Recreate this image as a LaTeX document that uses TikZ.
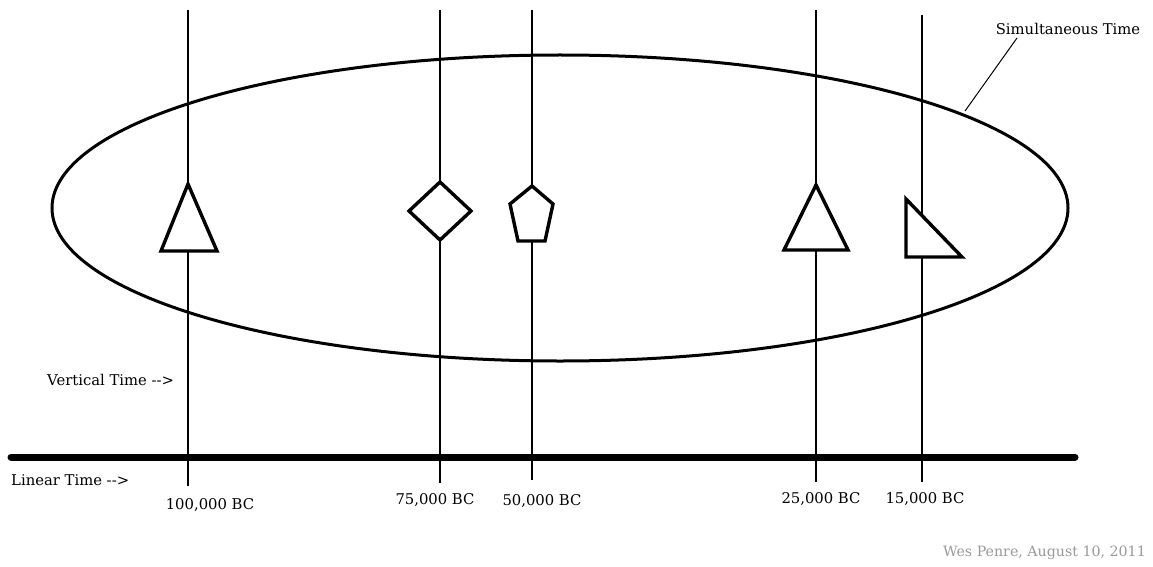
\documentclass[tikz,border=0pt]{standalone}
\usepackage{fontspec}
\setmainfont{DejaVu Serif}
\begin{document}
\begin{tikzpicture}[x=1pt,y=-1pt,
  vline/.style={line width=1.1pt},
  glyph/.style={line width=3.4pt,fill=white,line join=miter},
  lbl/.style={inner sep=0pt,font=\fontsize{14.8}{16}\selectfont},
  sig/.style={inner sep=0pt,font=\fontsize{14.2}{16}\selectfont,text=black!40}]
\useasboundingbox (0,0) rectangle (1153,567);
% vertical time lines
\foreach \n/\x/\yt/\yb in {a/188/10/486, b/440/10/483, c/532/10/480, d/816/10/482, e/922/15/482}{
  \coordinate (t\n) at (\x,\yt);
  \coordinate (b\n) at (\x,\yb);
  \draw[vline] (t\n) -- (b\n);
}
% ellipse
\draw[line width=3pt] (560,208) ellipse [x radius=508, y radius=153];
% linear time line
\coordinate (L1) at (11,457);
\coordinate (L2) at (1075,457);
\draw[line width=7pt,line cap=round] (L1) -- (L2);
% shapes
\draw[glyph] (188,184) -- (217,251) -- (161,251) -- cycle;
\draw[glyph] (440,182) -- (471,211) -- (440,240) -- (409,211) -- cycle;
\draw[glyph] (532,186) -- (553,204) -- (545,241) -- (518,241) -- (510,204) -- cycle;
\draw[glyph] (816,185) -- (848,250) -- (784,250) -- cycle;
\draw[glyph] (906,199) -- (962,257) -- (906,257) -- cycle;
% labels
\node[lbl,anchor=west] (vt) at (47,380) {Vertical Time -{}->};
\node[lbl,anchor=west] (lt) at (11,480) {Linear Time -{}->};
\node[lbl] (l1) at (210,505) {100,000 BC};
\node[lbl] (l2) at (435,500) {75,000 BC};
\node[lbl] (l3) at (542,501) {50,000 BC};
\node[lbl] (l4) at (821,499) {25,000 BC};
\node[lbl] (l5) at (925,499) {15,000 BC};
\node[lbl] (st) at (1068,29) {Simultaneous Time};
\coordinate (sa) at (1017,38);
\coordinate (sp) at (965,111);
\draw[line width=1pt] (sa) -- (sp);
\node[sig,anchor=east] (sg) at (1146,553) {Wes Penre, August 10, 2011};
\end{tikzpicture}
\end{document}
